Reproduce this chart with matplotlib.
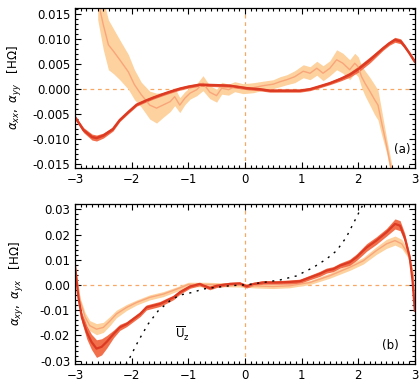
#alpha tensor components vs height, two panels
import numpy as np
import matplotlib
matplotlib.use("Agg")
import matplotlib.pyplot as plt
from matplotlib.ticker import MultipleLocator, FormatStrFormatter

plt.rcParams['font.family'] = 'DejaVu Sans'
plt.rcParams['mathtext.fontset'] = 'dejavusans'
plt.rcParams['font.size'] = 8.5

#colours
c_dark = '#dc3a22'
c_dark_band = '#f26f4c'
c_light = '#f9a57a'
c_light_band = '#fdd29e'
c_ref = '#f8a865'

#panel (a): alpha_xx
x_xx = [-3.0,-2.85,-2.7,-2.62,-2.5,-2.33,-2.21,-2.05,-1.91,-1.75,-1.62,-1.45,-1.32,-1.15,-1.0,-0.8,-0.5,-0.27,0.03,0.25,0.44,0.79,0.97,1.15,1.3,1.5,1.7,1.85,2.0,2.21,2.44,2.55,2.65,2.75,2.82,2.9,3.0]
a_xx = [-0.0056,-0.0082,-0.0096,-0.0098,-0.0093,-0.0080,-0.0062,-0.0045,-0.0031,-0.0023,-0.0017,-0.0010,-0.0005,0.0001,0.0005,0.0009,0.0008,0.0007,0.0002,0.0000,-0.0003,-0.0003,-0.0003,0.0000,0.0005,0.0012,0.0021,0.0029,0.0040,0.0059,0.0082,0.0092,0.0099,0.0096,0.0086,0.0073,0.0055]
e_xx = [0.0003,0.0005,0.0006,0.0006,0.0005,0.0004,0.0003,0.0003,0.0003,0.0003,0.0003,0.0003,0.0003,0.0003,0.0003,0.0003,0.0003,0.0003,0.0003,0.0003,0.0003,0.0003,0.0003,0.0003,0.0003,0.0003,0.0004,0.0005,0.0006,0.0006,0.0004,0.0004,0.0005,0.0005,0.0004,0.0003,0.0003]

#panel (a): alpha_yy
x_yy = [-2.6,-2.5,-2.41,-2.32,-2.21,-2.06,-1.95,-1.83,-1.68,-1.56,-1.45,-1.32,-1.24,-1.15,-1.06,-0.97,-0.85,-0.74,-0.62,-0.5,-0.41,-0.29,-0.18,-0.03,0.15,0.32,0.5,0.62,0.74,0.88,1.03,1.15,1.27,1.38,1.5,1.62,1.73,1.85,1.94,2.0,2.06,2.12,2.21,2.29,2.35,2.41,2.5,2.6]
a_yy = [0.018,0.0129,0.0089,0.0076,0.0059,0.0035,0.0009,-0.0011,-0.0032,-0.0038,-0.0032,-0.0025,-0.0015,-0.0032,-0.0018,-0.0008,-0.0001,0.0012,-0.0006,-0.0013,0.0002,-0.0001,0.0005,0.0001,0.0003,0.0007,0.0010,0.0015,0.0019,0.0025,0.0036,0.0032,0.0042,0.0032,0.0042,0.0059,0.0052,0.0039,0.0052,0.0045,0.0025,0.0012,-0.0005,-0.0021,-0.0032,-0.0065,-0.0112,-0.0170]
e_yy = [0.004,0.005,0.005,0.0045,0.004,0.0035,0.003,0.0025,0.0028,0.003,0.0025,0.002,0.0018,0.0015,0.0013,0.0012,0.0012,0.0015,0.0013,0.0013,0.0012,0.0011,0.001,0.001,0.001,0.0009,0.0009,0.001,0.001,0.0012,0.0013,0.0013,0.0014,0.0015,0.0015,0.002,0.002,0.002,0.002,0.002,0.0022,0.0025,0.0028,0.003,0.003,0.0025,0.0015,0.0015]

#panel (b): alpha_xy
x_xy = [-3.0,-2.94,-2.88,-2.79,-2.71,-2.62,-2.53,-2.44,-2.32,-2.21,-2.09,-1.97,-1.85,-1.74,-1.62,-1.5,-1.38,-1.26,-1.15,-0.97,-0.8,-0.62,-0.5,-0.27,-0.09,0.03,0.15,0.32,0.56,0.79,0.97,1.15,1.32,1.44,1.56,1.68,1.85,1.97,2.15,2.32,2.5,2.65,2.74,2.82,2.91,2.96,3.0]
a_xy = [0.0077,-0.0049,-0.0128,-0.0188,-0.0225,-0.0252,-0.0245,-0.0225,-0.0194,-0.0168,-0.0155,-0.0135,-0.0115,-0.0089,-0.0082,-0.0075,-0.0062,-0.0049,-0.0029,-0.0006,0.0004,-0.0012,-0.0003,0.0004,0.0006,-0.0005,0.0004,0.0010,0.0010,0.0012,0.0015,0.0030,0.0044,0.0057,0.0063,0.0077,0.0090,0.0110,0.0149,0.0176,0.0209,0.0242,0.0235,0.0189,0.0110,0.0017,-0.0102]
e_xy = [0.0005,0.0012,0.002,0.0027,0.003,0.0035,0.0032,0.0025,0.0015,0.0012,0.001,0.001,0.001,0.001,0.001,0.001,0.001,0.0009,0.0008,0.0007,0.0007,0.0007,0.0007,0.0007,0.0007,0.0007,0.0007,0.0007,0.0007,0.0008,0.0008,0.0009,0.001,0.001,0.001,0.001,0.0012,0.0013,0.0015,0.0015,0.0015,0.002,0.002,0.0017,0.0012,0.0008,0.0005]

#panel (b): alpha_yx
x_yx = [-3.0,-2.91,-2.82,-2.74,-2.62,-2.5,-2.38,-2.27,-2.09,-1.91,-1.68,-1.44,-1.2,-1.0,-0.7,-0.4,-0.1,0.2,0.5,0.79,1.15,1.5,1.85,2.09,2.32,2.5,2.65,2.77,2.88,2.97,3.0]
a_yx = [0.0077,-0.0062,-0.0128,-0.0161,-0.0175,-0.0168,-0.0142,-0.0115,-0.0089,-0.0069,-0.0049,-0.0036,-0.0016,0.0002,0.0002,0.0001,0.0000,-0.0004,-0.0006,-0.0003,0.0010,0.0037,0.0070,0.0096,0.0136,0.0163,0.0176,0.0163,0.0123,0.0044,-0.0080]
e_yx = [0.0005,0.0012,0.0018,0.002,0.0022,0.002,0.0018,0.0015,0.0012,0.001,0.001,0.001,0.0009,0.0009,0.0009,0.0008,0.0008,0.0008,0.0008,0.0008,0.0008,0.001,0.0012,0.0013,0.0015,0.0018,0.0018,0.0018,0.0015,0.001,0.0005]

#mean flow profile (dotted)
x_uz = [-2.1,-2.03,-1.88,-1.71,-1.53,-1.32,-1.15,-0.92,-0.74,-0.5,-0.27,0.03,0.32,0.62,0.91,1.21,1.44,1.62,1.79,1.94,2.06,2.12]
u_z = [-0.0315,-0.0287,-0.0221,-0.0155,-0.0102,-0.0062,-0.0040,-0.0029,-0.0016,-0.0009,-0.0003,0.0001,0.0010,0.0020,0.0036,0.0070,0.0103,0.0136,0.0189,0.0255,0.0308,0.0335]

def band(ax, x, y, e, col_band, col_line, lw):
    x = np.array(x); y = np.array(y); e = np.array(e)
    ax.fill_between(x, y-e, y+e, color=col_band, lw=0)
    ax.plot(x, y, color=col_line, lw=lw)

def style(ax, ymin, ymax, ymaj, ymin_step, fmt):
    ax.set_xlim(-3, 3)
    ax.set_ylim(ymin, ymax)
    ax.xaxis.set_major_locator(MultipleLocator(1))
    ax.xaxis.set_minor_locator(MultipleLocator(0.1))
    ax.yaxis.set_major_locator(MultipleLocator(ymaj))
    ax.yaxis.set_minor_locator(MultipleLocator(ymin_step))
    ax.yaxis.set_major_formatter(FormatStrFormatter(fmt))
    ax.tick_params(which='both', direction='in', top=True, right=True, width=0.8)
    ax.tick_params(which='major', length=4.5)
    ax.tick_params(which='minor', length=2)
    for s in ax.spines.values():
        s.set_linewidth(0.9)
    ax.axhline(0, color=c_ref, lw=0.9, dashes=(3, 3), zorder=0)
    ax.axvline(0, color=c_ref, lw=0.9, dashes=(3, 3), zorder=0)

fig = plt.figure(figsize=(4.19, 3.83), dpi=100)
ax1 = fig.add_axes([0.179, 0.5614, 0.811, 0.418])
ax2 = fig.add_axes([0.179, 0.0496, 0.811, 0.4178])

style(ax1, -0.0158, 0.0163, 0.005, 0.001, '%.3f')
band(ax1, x_yy, a_yy, e_yy, c_light_band, c_light, 1.0)
band(ax1, x_xx, a_xx, e_xx, c_dark_band, c_dark, 1.8)
ax1.set_ylabel(r'$\alpha_{xx},\ \alpha_{yy}\quad[\mathrm{H\Omega}]$', labelpad=6)
ax1.text(2.77, -0.012, '(a)', ha='center', va='center')

style(ax2, -0.0313, 0.0321, 0.01, 0.002, '%.2f')
band(ax2, x_yx, a_yx, e_yx, c_light_band, c_light, 1.0)
band(ax2, x_xy, a_xy, e_xy, c_dark_band, c_dark, 1.6)
ax2.plot(x_uz, u_z, color='black', lw=1.0, linestyle=(0, (1.5, 4)))
ax2.set_ylabel(r'$\alpha_{xy},\ \alpha_{yx}\quad[\mathrm{H\Omega}]$', labelpad=10)
ax2.text(-1.11, -0.0193, r'$\overline{\mathrm{U}}_\mathrm{z}$', ha='center', va='center')
ax2.text(2.56, -0.0241, '(b)', ha='center', va='center')

fig.savefig('out.png', dpi=100)
